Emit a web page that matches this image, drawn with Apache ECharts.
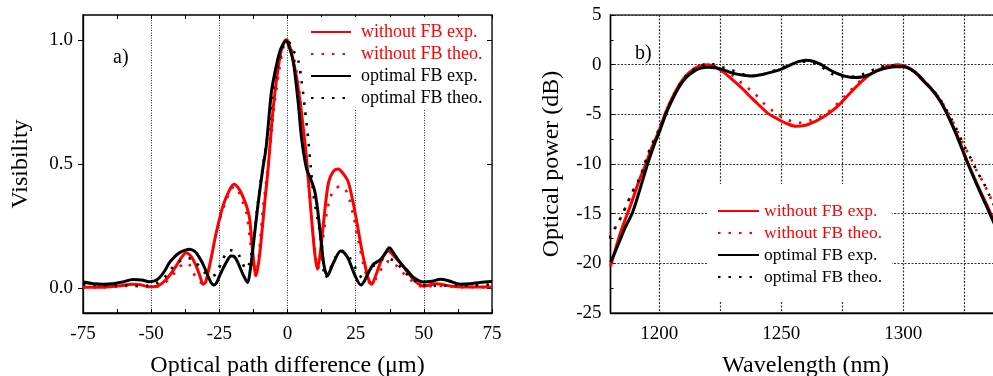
<!DOCTYPE html>
<html>
<head>
<meta charset="utf-8">
<script src="https://cdn.jsdelivr.net/npm/echarts@6/dist/echarts.min.js"></script>
<style>html,body{margin:0;padding:0;background:#fff}#c{width:993px;height:376px}</style>
</head>
<body>
<div id="c"></div>
<script>
// ---------- Panel a) : visibility vs optical path difference ----------
const opdTicks = [-75, -50, -25, 0, 25, 50, 75];
const visTicks = [0, 0.5, 1.0];
const visRedExp = [[-75,0.004],[-70,0.004],[-65,0.006],[-61,0.01],[-57,0.016],[-54,0.014],[-51,0.006],[-49,0.006],[-47,0.012],[-45,0.03],[-43,0.055],[-40.8,0.09],[-38.8,0.125],[-37.2,0.143],[-35.5,0.13],[-33.5,0.09],[-32,0.045],[-31,0.016],[-30,0.025],[-28.6,0.09],[-27.3,0.16],[-26.2,0.22],[-23.7,0.33],[-21.5,0.39],[-19.6,0.418],[-17.8,0.40],[-16.4,0.37],[-15,0.33],[-13.9,0.28],[-12.8,0.15],[-11.5,0.05],[-10.5,0.11],[-9.6,0.2],[-8.4,0.34],[-7.2,0.47],[-5.3,0.72],[-3.5,0.88],[-2.2,0.96],[-1,0.995],[-0.4,1.0],[0.5,0.985],[1.8,0.93],[3.3,0.85],[5.1,0.71],[7.0,0.52],[8.9,0.27],[10.1,0.13],[11,0.076],[12,0.14],[13.2,0.264],[15,0.424],[16.8,0.47],[18.6,0.48],[20.5,0.46],[22.4,0.424],[24.8,0.304],[27.2,0.157],[29.7,0.036],[30.9,0.016],[32,0.04],[33.4,0.083],[35,0.125],[37,0.15],[39,0.13],[41.3,0.103],[44,0.065],[46.2,0.036],[48,0.018],[49.9,0.008],[52,0.013],[54.7,0.018],[58,0.012],[62,0.006],[68,0.005],[75,0.005]];
const visRedTheo = [[-75,0.003],[-68,0.004],[-63,0.006],[-59.8,0.009],[-55.5,0.009],[-52,0.006],[-49,0.004],[-46,0.015],[-43,0.04],[-40.5,0.075],[-38.4,0.096],[-36.5,0.1],[-34.7,0.063],[-32.5,0.03],[-30.8,0.015],[-29,0.07],[-27,0.18],[-25,0.27],[-23,0.34],[-21,0.39],[-19.5,0.41],[-18,0.39],[-16.5,0.35],[-15,0.3],[-13.8,0.2],[-12.7,0.1],[-11.7,0.05],[-10.5,0.13],[-9,0.32],[-7,0.5],[-5,0.72],[-3,0.88],[-1.5,0.97],[-0.3,1.0],[1,0.98],[2.5,0.92],[4,0.82],[5.5,0.66],[7,0.5],[8.5,0.32],[10,0.16],[11.2,0.08],[12.2,0.12],[13.5,0.24],[15.5,0.36],[17.5,0.4],[19.5,0.41],[21,0.4],[22.4,0.37],[24.2,0.29],[26,0.19],[28,0.09],[29.8,0.025],[31,0.015],[32.5,0.04],[34,0.07],[35.5,0.095],[37.5,0.11],[40,0.09],[42.5,0.06],[45,0.035],[48,0.012],[50,0.004],[53.5,0.009],[57.8,0.009],[62,0.005],[68,0.004],[75,0.004]];
const visBlackExp = [[-75,0.025],[-71,0.018],[-67.7,0.016],[-64,0.018],[-60.4,0.025],[-56.7,0.035],[-53.5,0.033],[-50.6,0.026],[-48.5,0.03],[-46.9,0.043],[-45,0.07],[-43.3,0.103],[-41.5,0.125],[-39.6,0.143],[-35.9,0.157],[-34,0.148],[-32.3,0.123],[-30.7,0.09],[-29.2,0.05],[-28,0.022],[-27,0.013],[-26,0.022],[-24.9,0.05],[-22.5,0.103],[-20.7,0.13],[-19.5,0.127],[-18.2,0.103],[-16.1,0.05],[-14.6,0.023],[-13.7,0.07],[-12.7,0.157],[-10.9,0.33],[-9.1,0.478],[-7.8,0.57],[-5.9,0.79],[-4.2,0.89],[-2.8,0.953],[-1.5,0.985],[-0.6,0.996],[0.5,0.975],[2.1,0.913],[3.9,0.75],[5.2,0.6],[7,0.48],[8.5,0.44],[10,0.39],[11,0.32],[12,0.224],[13.4,0.09],[14.7,0.05],[15.8,0.075],[16.9,0.103],[19.5,0.15],[21,0.14],[22.4,0.116],[24.8,0.05],[26.9,0.013],[28,0.025],[29.1,0.05],[31.5,0.096],[34,0.114],[35.8,0.14],[37.3,0.163],[39.3,0.135],[41.3,0.103],[44,0.07],[46.2,0.043],[49.9,0.025],[53,0.028],[56,0.036],[59,0.03],[63.3,0.016],[67,0.018],[70.6,0.023],[75,0.027]];
const visBlackTheo = [[-75,0.015],[-68,0.012],[-63,0.012],[-59.8,0.012],[-55.5,0.009],[-51.5,0.01],[-48,0.02],[-45,0.045],[-42,0.085],[-38.4,0.116],[-36,0.12],[-33.9,0.107],[-30.4,0.063],[-28,0.05],[-26.2,0.056],[-24.3,0.103],[-22.5,0.14],[-21.3,0.153],[-19.5,0.15],[-18,0.137],[-16.5,0.1],[-15.2,0.076],[-14,0.1],[-12.6,0.18],[-11,0.33],[-9.2,0.48],[-7.5,0.6],[-5.5,0.78],[-3.5,0.9],[-1.8,0.97],[-0.5,0.995],[1,0.985],[2.5,0.95],[3.9,0.92],[5.1,0.84],[6.3,0.73],[7.6,0.6],[8.6,0.48],[9.5,0.38],[10.5,0.31],[11.4,0.26],[12.6,0.157],[13.8,0.04],[15,0.06],[16.5,0.1],[18.5,0.14],[20,0.15],[21.5,0.14],[23,0.12],[25.5,0.07],[27.9,0.036],[29.5,0.06],[31.6,0.09],[34,0.11],[36.4,0.123],[38.2,0.115],[40.1,0.1],[43,0.065],[46,0.035],[49,0.015],[53.5,0.01],[57.8,0.01],[62,0.012],[68,0.012],[75,0.015]];

// ---------- Panel b) : optical power vs wavelength ----------
const wlLabelTicks = [1200, 1250, 1300];
const wlGridTicks = [1200, 1225, 1250, 1275, 1300, 1325];
const dbRedExp = [[1180,-20.3],[1182,-18.6],[1184,-17.0],[1186,-15.6],[1188,-14.3],[1190,-12.9],[1192,-11.5],[1194.5,-10],[1197,-8.3],[1200,-6.6],[1202.3,-5],[1205,-3.5],[1208,-2.1],[1211,-1.1],[1214,-0.45],[1217,-0.1],[1220,0.0],[1223,-0.25],[1226,-0.7],[1229,-1.3],[1234,-2.4],[1238,-3.4],[1241,-4.1],[1244.5,-4.9],[1248,-5.4],[1252,-5.9],[1256,-6.2],[1260,-6.1],[1264,-5.7],[1267,-5.3],[1270,-4.8],[1273.5,-4.1],[1276.5,-3.3],[1280,-2.4],[1283.3,-1.6],[1287,-0.9],[1290,-0.5],[1294,-0.15],[1298,0.0],[1302,-0.3],[1305,-0.8],[1308,-1.6],[1311,-2.3],[1314,-3.2],[1318,-4.9],[1322,-7.1],[1326,-9.6],[1330,-11.9],[1334,-14.0],[1338,-16.2],[1340,-17.3]];
const dbRedTheo = [[1179.5,-17.4],[1182.2,-16.3],[1184.6,-15.2],[1187,-13.9],[1189,-12.8],[1191.4,-11.7],[1193.2,-10.6],[1196,-8.6],[1200,-6.4],[1205,-3.5],[1210,-1.4],[1215,-0.3],[1220,0.05],[1225,-0.45],[1229.5,-1.0],[1234,-1.9],[1239,-2.9],[1243.3,-4.0],[1247.8,-4.9],[1252.6,-5.55],[1257.1,-5.85],[1261.5,-5.65],[1266,-5.2],[1270,-4.6],[1276,-3.2],[1283,-1.5],[1290,-0.45],[1296,0.0],[1302,-0.3],[1307,-1.3],[1314,-3.1],[1320,-5.6],[1325,-8.2],[1328,-9.6],[1330.1,-10.7],[1332.9,-11.9],[1335.2,-13.1],[1340,-15.6]];
const dbBlackExp = [[1180,-19.9],[1182,-18.8],[1184,-17.6],[1186,-16.4],[1189,-14.9],[1192,-12.6],[1195.2,-10],[1198,-8.0],[1200,-6.8],[1202.5,-5.1],[1205,-3.7],[1208,-2.3],[1211,-1.3],[1214,-0.7],[1217,-0.35],[1220,-0.25],[1223,-0.3],[1226,-0.5],[1230,-0.85],[1234,-1.05],[1238,-1.15],[1242,-1.0],[1246,-0.75],[1250,-0.45],[1254,0.0],[1257,0.3],[1260,0.45],[1263,0.35],[1266,0.05],[1269,-0.4],[1272,-0.8],[1276,-1.15],[1280,-1.3],[1283,-1.25],[1286,-1.0],[1289,-0.65],[1293,-0.35],[1297,-0.2],[1300,-0.2],[1303,-0.45],[1306,-1.0],[1309,-1.8],[1312,-2.6],[1315,-3.6],[1318,-5.0],[1322,-7.2],[1326,-9.7],[1330,-12.0],[1334,-14.2],[1338,-16.4],[1340,-17.5]];
const dbBlackTheo = [[1179.5,-17.5],[1182.2,-16.3],[1184.6,-15.2],[1187,-13.9],[1189,-12.8],[1191.4,-11.7],[1193.2,-10.6],[1196,-8.6],[1200,-6.5],[1205,-3.6],[1210,-1.4],[1215,-0.35],[1220.5,0.1],[1225,-0.2],[1229.8,-0.55],[1234,-0.95],[1238.9,-1.1],[1243,-0.95],[1247,-0.6],[1251,-0.2],[1255,0.1],[1258.5,0.3],[1261.5,0.26],[1265.6,-0.07],[1270.5,-0.9],[1275,-1.2],[1280,-1.2],[1284,-0.9],[1288.8,-0.4],[1294,-0.05],[1298,-0.1],[1302,-0.3],[1307,-1.3],[1314,-3.1],[1320,-5.6],[1325,-8.2],[1328,-9.6],[1330.1,-10.7],[1332.9,-11.9],[1335.2,-13.1],[1340,-15.6]];

const seriesNames = ['without FB exp.', 'without FB theo.', 'optimal FB exp.', 'optimal FB theo.'];
const RED = '#ff0000', BLK = '#000000';
const FONT = '"Liberation Serif", "Times New Roman", serif';

function mk(name, data, color, dotted, xi, yi) {
  return {
    name, type: 'line', data, xAxisIndex: xi, yAxisIndex: yi,
    symbol: 'none', smooth: 0.3, animation: false,
    lineStyle: dotted ? { color, width: 2.6, type: [2.5, 8] } : { color, width: 3 },
    itemStyle: { color }
  };
}

const chart = echarts.init(document.getElementById('c'), null, { renderer: 'canvas' });
const lblStyle = { fontFamily: FONT, fontSize: 19, color: '#000' };
const nameStyle = { fontFamily: FONT, fontSize: 24, color: '#000' };
const plain = v => String(v);

chart.setOption({
  animation: false,
  backgroundColor: '#fff',
  textStyle: { fontFamily: FONT },
  title: [
    { text: 'a)', left: 108, top: 43, textStyle: { fontFamily: FONT, fontSize: 20, fontWeight: 'normal', color: '#000' } },
    { text: 'b)', left: 630, top: 39, textStyle: { fontFamily: FONT, fontSize: 20, fontWeight: 'normal', color: '#000' } }
  ],
  grid: [
    { left: 83, top: 15, width: 409, height: 298, show: true, borderColor: '#000', borderWidth: 1.3, backgroundColor: 'transparent', outerBoundsMode: 'none', containLabel: false },
    { left: 610.5, top: 15, width: 390.4, height: 298, show: true, borderColor: '#333', borderWidth: 1.6, backgroundColor: 'transparent', outerBoundsMode: 'none', containLabel: false }
  ],
  legend: [
    {
      left: 306, top: 17, orient: 'vertical', padding: [6, 2, 3, 4],
      backgroundColor: '#fff', itemWidth: 40, itemHeight: 14, itemGap: 4,
      itemStyle: { opacity: 0 },
      textStyle: { fontFamily: FONT, fontSize: 18, lineHeight: 18, padding: [0, 0, 0, 5] },
      data: seriesNames.map((n, i) => ({ name: n, textStyle: { color: i < 2 ? RED : BLK } }))
    },
    {
      left: 707, top: 184, orient: 'vertical', padding: [18, 10, 15, 10],
      backgroundColor: '#fff', itemWidth: 41, itemHeight: 14, itemGap: 4,
      itemStyle: { opacity: 0 },
      textStyle: { fontFamily: FONT, fontSize: 17.5, lineHeight: 17.7 },
      data: seriesNames.map((n, i) => ({ name: n, textStyle: { color: i < 2 ? RED : BLK } }))
    }
  ],
  xAxis: [
    { gridIndex: 0, type: 'value', position: 'bottom', min: -75, max: 75, interval: 25,
      axisLine: { show: true, onZero: false, lineStyle: { color: '#000', width: 1.3 } },
      axisTick: { show: true, inside: true, length: 4, lineStyle: { color: '#000' } },
      minorTick: { show: true, splitNumber: 2, length: 4, lineStyle: { color: '#000' } },
      axisLabel: Object.assign({ margin: 12, showMinLabel: true, showMaxLabel: true, hideOverlap: false, formatter: plain }, lblStyle),
      splitLine: { show: true, lineStyle: { color: '#333', width: 1, type: [1, 1.5] } },
      name: 'Optical path difference (\u03bcm)', nameLocation: 'middle', nameGap: 41, nameTextStyle: nameStyle },
    { gridIndex: 0, type: 'value', position: 'top', min: -75, max: 75, interval: 25,
      axisLine: { show: false, onZero: false }, axisLabel: { show: false }, splitLine: { show: false },
      axisTick: { show: true, inside: true, length: 4, lineStyle: { color: '#000' } },
      minorTick: { show: true, splitNumber: 2, length: 4, lineStyle: { color: '#000' } } },
    { gridIndex: 1, type: 'value', position: 'bottom', min: 1180, max: 1340,
      axisLine: { show: true, onZero: false, lineStyle: { color: '#000', width: 1.3 } },
      axisTick: { show: false, customValues: wlGridTicks },
      axisLabel: Object.assign({ margin: 12, customValues: wlLabelTicks, formatter: plain }, lblStyle),
      splitLine: { show: true, lineStyle: { color: '#333', width: 1.2, type: [2, 1.5] } },
      name: 'Wavelength (nm)', nameLocation: 'middle', nameGap: 41, nameTextStyle: nameStyle },
    { gridIndex: 1, type: 'value', position: 'top', min: 1180, max: 1340,
      axisLine: { show: false, onZero: false }, axisLabel: { show: false }, splitLine: { show: false }, axisTick: { show: false } }
  ],
  yAxis: [
    { gridIndex: 0, type: 'value', position: 'left', min: -0.1, max: 1.1,
      axisLine: { show: true, onZero: false, lineStyle: { color: '#000', width: 1.3 } },
      axisTick: { show: true, inside: false, length: 5, customValues: visTicks, lineStyle: { color: '#000' } },
      axisLabel: Object.assign({ margin: 10, customValues: visTicks, formatter: v => Number(v).toFixed(1) }, lblStyle),
      splitLine: { show: false },
      name: 'Visibility', nameLocation: 'middle', nameGap: 50, nameTextStyle: nameStyle },
    { gridIndex: 0, type: 'value', position: 'right', min: -0.1, max: 1.1,
      axisLine: { show: false, onZero: false }, axisLabel: { show: false }, splitLine: { show: false },
      axisTick: { show: true, inside: true, length: 5, customValues: visTicks, lineStyle: { color: '#000' } } },
    { gridIndex: 1, type: 'value', position: 'left', min: -25, max: 5, interval: 5,
      axisLine: { show: true, onZero: false, lineStyle: { color: '#000', width: 1.3 } },
      axisTick: { show: true, inside: true, length: 4, lineStyle: { color: '#000' } },
      minorTick: { show: true, splitNumber: 2, length: 3, lineStyle: { color: '#000' } },
      axisLabel: Object.assign({ margin: 9, showMinLabel: true, showMaxLabel: true, formatter: plain }, lblStyle),
      splitLine: { show: true, lineStyle: { color: '#333', width: 1.2, type: [2, 1.5] } },
      name: 'Optical power (dB)', nameLocation: 'middle', nameGap: 47, nameTextStyle: nameStyle }
  ],
  series: [
    mk(seriesNames[0], visRedExp, RED, false, 0, 0),
    mk(seriesNames[1], visRedTheo, RED, true, 0, 0),
    mk(seriesNames[2], visBlackExp, BLK, false, 0, 0),
    mk(seriesNames[3], visBlackTheo, BLK, true, 0, 0),
    mk(seriesNames[0], dbRedExp, RED, false, 2, 2),
    mk(seriesNames[1], dbRedTheo, RED, true, 2, 2),
    mk(seriesNames[2], dbBlackExp, BLK, false, 2, 2),
    mk(seriesNames[3], dbBlackTheo, BLK, true, 2, 2)
  ]
});
</script>
</body>
</html>
